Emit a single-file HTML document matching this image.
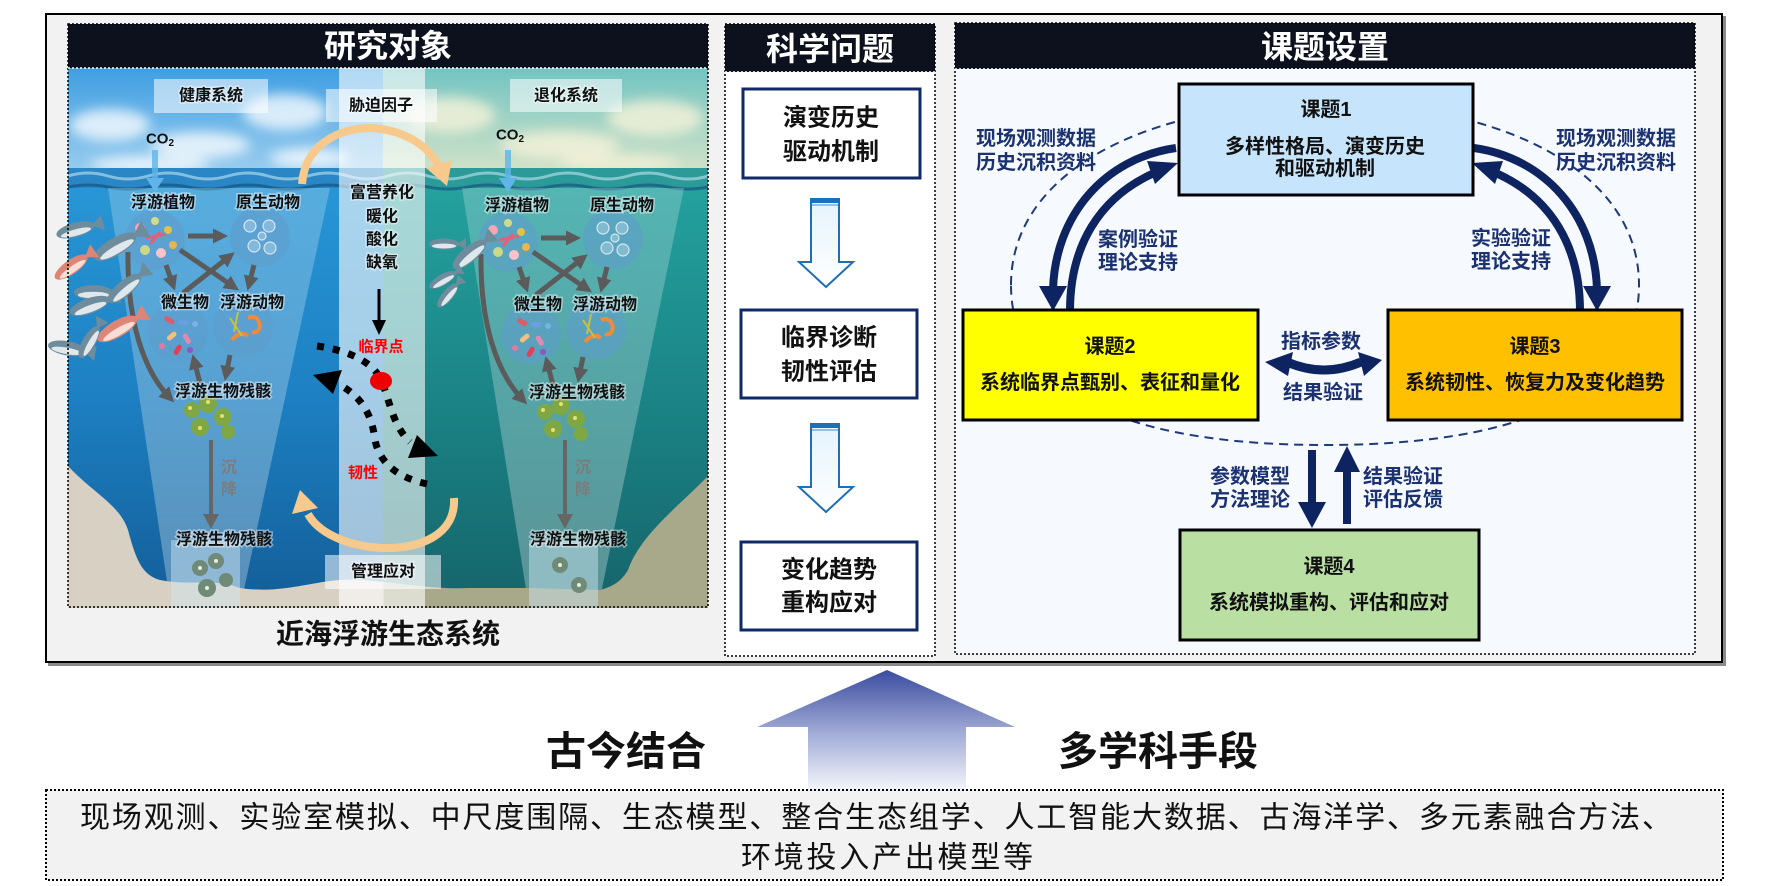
<!DOCTYPE html>
<html><head><meta charset="utf-8">
<style>
html,body{margin:0;padding:0;background:#fff;}
body{width:1768px;height:886px;overflow:hidden;}
svg{display:block;}
text{font-family:"Liberation Sans","Noto Sans CJK SC",sans-serif;}
.lb{font-size:16px;font-weight:bold;fill:#111;text-anchor:middle;dominant-baseline:central;stroke:#fff;stroke-width:3px;stroke-opacity:.45;paint-order:stroke;}
.nv{font-size:20px;font-weight:bold;fill:#1b3170;text-anchor:middle;dominant-baseline:central;}
.bx{font-size:20px;font-weight:bold;fill:#111;text-anchor:middle;dominant-baseline:central;}
.mq{font-size:24px;font-weight:bold;fill:#111;text-anchor:middle;dominant-baseline:central;}
.hd{font-size:32px;font-weight:bold;fill:#fff;text-anchor:middle;dominant-baseline:central;}
.sk{font-size:16px;font-weight:bold;fill:#7c7c7c;text-anchor:middle;dominant-baseline:central;}
</style></head><body>
<svg width="1768" height="886" viewBox="0 0 1768 886" xmlns="http://www.w3.org/2000/svg">
<defs>
 <linearGradient id="skyL" x1="0" y1="0" x2="0" y2="1"><stop offset="0" stop-color="#3f9ee2"/><stop offset="1" stop-color="#a6d3f0"/></linearGradient>
 <linearGradient id="skyR" x1="0" y1="0" x2="0" y2="1"><stop offset="0" stop-color="#72c4c2"/><stop offset="1" stop-color="#dfe6c8"/></linearGradient>
 <linearGradient id="watL" x1="0" y1="0" x2="0" y2="1"><stop offset="0" stop-color="#2896d6"/><stop offset="0.5" stop-color="#1d80c2"/><stop offset="1" stop-color="#135d98"/></linearGradient>
 <linearGradient id="watR" x1="0" y1="0" x2="0" y2="1"><stop offset="0" stop-color="#24a19e"/><stop offset="0.5" stop-color="#1b8486"/><stop offset="1" stop-color="#15646a"/></linearGradient>
 <linearGradient id="sand" x1="68" y1="0" x2="708" y2="0" gradientUnits="userSpaceOnUse"><stop offset="0" stop-color="#d9d0c4"/><stop offset="0.493" stop-color="#d9d0c4"/><stop offset="0.493" stop-color="#a8a88b"/><stop offset="1" stop-color="#a8a88b"/></linearGradient>
 <linearGradient id="beam" x1="0" y1="0" x2="0" y2="1"><stop offset="0" stop-color="#fff" stop-opacity="0.22"/><stop offset="1" stop-color="#fff" stop-opacity="0.30"/></linearGradient>
 <linearGradient id="bigArr" x1="0" y1="670" x2="0" y2="798" gradientUnits="userSpaceOnUse"><stop offset="0" stop-color="#3a4c9f"/><stop offset="0.5" stop-color="#a3add6"/><stop offset="1" stop-color="#ffffff"/></linearGradient>
 <linearGradient id="hollow" x1="0" y1="0" x2="0" y2="1"><stop offset="0" stop-color="#e4f3fc"/><stop offset="1" stop-color="#ffffff"/></linearGradient>
 <filter id="blur6" x="-50%" y="-50%" width="200%" height="200%"><feGaussianBlur stdDeviation="6"/></filter>
 <clipPath id="clipL"><rect x="68" y="68" width="640" height="540"/></clipPath>
 <marker id="ga" markerWidth="3" markerHeight="3" refX="1.8" refY="1.5" orient="auto" markerUnits="strokeWidth"><path d="M0,0 L3,1.5 L0,3 z" fill="#5b5b5b"/></marker>
 <g id="fishA"><ellipse cx="18" cy="8" rx="15" ry="5.5" fill="#6f8c9c"/><ellipse cx="18" cy="10" rx="12" ry="2.5" fill="#dfe8ec"/><polygon points="31,8 40,2 40,14" fill="#6f8c9c"/></g>
 <g id="fishB"><ellipse cx="18" cy="8" rx="15" ry="5.5" fill="#de8676"/><ellipse cx="18" cy="10" rx="12" ry="2.5" fill="#f6ddd6"/><polygon points="31,8 40,2 40,14" fill="#de8676"/></g>
 <g id="eco">
  <circle cx="155" cy="240" r="30" fill="#5d9ccc" fill-opacity="0.6"/>
  <circle cx="260" cy="237" r="30" fill="#5d9ccc" fill-opacity="0.6"/>
  <circle cx="178" cy="332" r="30" fill="#5d9ccc" fill-opacity="0.6"/>
  <circle cx="243" cy="327" r="30" fill="#5d9ccc" fill-opacity="0.6"/>
  <circle cx="140" cy="228" r="5" fill="#f4a6b4"/><circle cx="155" cy="221" r="4" fill="#cfdc8c"/><circle cx="168" cy="230" r="4" fill="#e2c04a"/>
  <circle cx="145" cy="250" r="5" fill="#c9d98a"/><circle cx="161" cy="253" r="5" fill="#f7c2c8"/><circle cx="173" cy="245" r="4" fill="#e7b64c"/>
  <path d="M146,238 L166,234 M150,244 L160,232" stroke="#e4607a" stroke-width="3"/>
  <g fill="#fff" fill-opacity="0.25" stroke="#fff" stroke-opacity="0.7" stroke-width="1.2">
   <circle cx="250" cy="226" r="6"/><circle cx="269" cy="226" r="6"/><circle cx="254" cy="246" r="6"/><circle cx="270" cy="248" r="6"/><circle cx="262" cy="236" r="4"/></g>
  <g>
   <rect x="164" y="318" width="11" height="5" rx="2.5" fill="#e05a6a" transform="rotate(30 170 320)"/>
   <rect x="178" y="320" width="11" height="5" rx="2.5" fill="#6aa0e0"/>
   <rect x="166" y="334" width="11" height="5" rx="2.5" fill="#f0c080" transform="rotate(-40 171 336)"/>
   <rect x="182" y="336" width="11" height="5" rx="2.5" fill="#e08ab0" transform="rotate(60 187 338)"/>
   <rect x="172" y="348" width="11" height="5" rx="2.5" fill="#e0405a" transform="rotate(-60 177 350)"/>
   <circle cx="190" cy="350" r="3" fill="#8a56c0"/><circle cx="162" cy="346" r="3" fill="#e07aa0"/><circle cx="195" cy="324" r="3" fill="#7ab0e8"/>
  </g>
  <path d="M248,318 q10,-4 12,8 q-2,8 -8,6" stroke="#f08a3c" stroke-width="4" fill="none"/>
  <path d="M232,340 q8,-10 16,-4" stroke="#f08a3c" stroke-width="4" fill="none"/>
  <path d="M230,318 l12,18 M238,312 l-4,20" stroke="#c8c040" stroke-width="2"/>
  <g stroke="#5b5b5b" stroke-width="5" fill="none" marker-end="url(#ga)">
   <path d="M188,236 L222,236"/>
   <path d="M180,250 L234,287"/>
   <path d="M183,293 L230,256"/>
   <path d="M166,265 L173,285"/>
   <path d="M254,265 L249,285"/>
   <path d="M200,383 L194,360"/>
   <path d="M230,355 L226,375"/>
   <path d="M128,252 C127,320 143,370 170,398"/>
  </g>
  <g fill="#7fa744"><circle cx="192" cy="410" r="8"/><circle cx="208" cy="404" r="9"/><circle cx="223" cy="417" r="9"/><circle cx="200" cy="427" r="9"/><circle cx="228" cy="432" r="7"/></g>
  <g fill="#e8e070"><circle cx="190" cy="408" r="2"/><circle cx="208" cy="402" r="2"/><circle cx="222" cy="416" r="2"/><circle cx="200" cy="428" r="2"/></g>
 </g>
</defs>

<!-- outer frame -->
<rect x="48" y="16" width="1678" height="650" fill="#8a8a8a"/>
<rect x="46" y="14" width="1676" height="648" fill="#f2f2f2" stroke="#000" stroke-width="2"/>

<!-- ===== LEFT PANEL ===== -->
<g clip-path="url(#clipL)">
 <rect x="68" y="68" width="315" height="118" fill="url(#skyL)"/>
 <rect x="383" y="68" width="325" height="118" fill="url(#skyR)"/>
 <g filter="url(#blur6)" fill="#fff" fill-opacity="0.75">
  <ellipse cx="110" cy="125" rx="40" ry="16"/><ellipse cx="200" cy="145" rx="50" ry="13"/><ellipse cx="285" cy="112" rx="42" ry="18"/><ellipse cx="150" cy="165" rx="60" ry="9"/><ellipse cx="310" cy="158" rx="40" ry="10"/>
 </g>
 <g filter="url(#blur6)" fill="#f6f2da" fill-opacity="0.8">
  <ellipse cx="450" cy="115" rx="45" ry="18"/><ellipse cx="560" cy="145" rx="60" ry="14"/><ellipse cx="655" cy="118" rx="48" ry="18"/><ellipse cx="620" cy="163" rx="60" ry="8"/>
 </g>
 <rect x="68" y="186" width="315" height="422" fill="url(#watL)"/>
 <rect x="383" y="186" width="325" height="422" fill="url(#watR)"/>
 <rect x="68" y="168" width="315" height="20" fill="#2a86c4"/>
 <rect x="383" y="168" width="325" height="20" fill="#2d9a9a"/>
 <path d="M68,176 q20,-6 40,0 t40,0 t40,0 t40,0 t40,0 t40,0 t40,0 t40,0 t40,0 t40,0 t40,0 t40,0 t40,0 t40,0 t40,0 t40,0 t40,0" stroke="#bfe6f4" stroke-opacity="0.6" stroke-width="3" fill="none"/>
 <path d="M68,187 q20,-4 40,0 t40,0 t40,0 t40,0 t40,0 t40,0 t40,0 t40,0 t40,0 t40,0 t40,0 t40,0 t40,0 t40,0 t40,0 t40,0 t40,0" stroke="#0f4d7a" stroke-opacity="0.6" stroke-width="3" fill="none"/>
 <!-- beams -->
 <polygon points="108,188 330,188 240,608 171,608" fill="url(#beam)"/>
 <polygon points="462,188 684,188 598,608 529,608" fill="url(#beam)"/>
 <!-- sand -->
 <path d="M68,466 C92,492 120,505 128,530 C136,560 142,575 160,580 C190,586 215,578 240,588 C280,594 310,582 340,580 C380,578 420,590 470,588 L530,588 L600,590 C615,586 622,580 628,570 C640,535 680,505 708,476 L708,608 L68,608 Z" fill="url(#sand)"/>
 <rect x="171" y="540" width="69" height="68" fill="#cfe8f4" fill-opacity="0.45"/>
 <rect x="529" y="540" width="69" height="68" fill="#cfe8f4" fill-opacity="0.45"/>
 <!-- center band -->
 <rect x="339" y="68" width="86" height="540" fill="#fff" fill-opacity="0.6"/>
 <!-- labels -->
 <rect x="154" y="79" width="114" height="34" fill="#fff" fill-opacity="0.55"/>
 <rect x="326" y="89" width="111" height="33" fill="#fff" fill-opacity="0.55"/>
 <rect x="510" y="79" width="112" height="33" fill="#fff" fill-opacity="0.55"/>
 <rect x="325" y="555" width="116" height="34" fill="#fff" fill-opacity="0.55"/>
 <!-- CO2 arrows -->
 <g stroke="#5fb4ea" stroke-width="6" stroke-opacity="0.8"><line x1="155" y1="150" x2="155" y2="180"/><line x1="508" y1="150" x2="508" y2="180"/></g>
 <polygon points="146,178 164,178 155,192" fill="#5fb4ea"/>
 <polygon points="499,178 517,178 508,192" fill="#5fb4ea"/>
 <!-- ecosystems -->
 <use href="#eco"/>
 <use href="#eco" x="353" y="2"/>
 <!-- sink arrows -->
 <g stroke="#666" stroke-width="4"><line x1="211" y1="440" x2="211" y2="515"/><line x1="565" y1="440" x2="565" y2="515"/></g>
 <polygon points="203,514 219,514 211,529" fill="#666"/>
 <polygon points="557,514 573,514 565,529" fill="#666"/>
 <!-- bottom residues -->
 <g fill="#6f8a76"><circle cx="200" cy="568" r="8"/><circle cx="216" cy="561" r="8"/><circle cx="207" cy="588" r="9"/><circle cx="226" cy="580" r="7"/><circle cx="560" cy="565" r="8"/><circle cx="579" cy="585" r="8"/></g>
 <g fill="#e8eedc"><circle cx="200" cy="568" r="2"/><circle cx="216" cy="561" r="2"/><circle cx="207" cy="588" r="2"/><circle cx="560" cy="565" r="2"/><circle cx="579" cy="585" r="2"/></g>
 <!-- orange arcs -->
 <path d="M302,184 C305,145 338,128 372,128 C405,130 428,146 438,165" stroke="#f7c98c" stroke-width="8" fill="none"/>
 <polygon points="426,168 452,160 447,186" fill="#f7c98c"/>
 <path d="M454,498 C456,535 420,549 382,548 C345,546 318,532 308,514" stroke="#f7c98c" stroke-width="8" fill="none"/>
 <polygon points="292,514 318,508 300,490" fill="#f7c98c"/>
 <!-- black arrow -->
 <line x1="379" y1="289" x2="379" y2="322" stroke="#000" stroke-width="3"/>
 <polygon points="372,320 386,320 379,335" fill="#000"/>
 <!-- dashed curves -->
 <path d="M317,346 C345,350 372,360 381,380 C390,400 392,425 410,442" stroke="#000" stroke-width="7" stroke-dasharray="7 9" fill="none"/>
 <polygon points="417,435 438,456 408,458" fill="#000"/>
 <path d="M427,484 C400,478 380,465 375,440 C372,415 362,398 342,386" stroke="#000" stroke-width="7" stroke-dasharray="7 9" fill="none"/>
 <polygon points="313,375 342,370 333,394" fill="#000"/>
 <ellipse cx="381" cy="381" rx="11" ry="9" fill="#ee0000"/>
</g>
<!-- fish (overflow) -->
<use href="#fishA" transform="translate(50,226) rotate(-15) scale(1.3)"/>
<use href="#fishA" transform="translate(84,250) rotate(-30) scale(1.6)"/>
<use href="#fishB" transform="translate(46,272) rotate(-35) scale(1.3)"/>
<use href="#fishA" transform="translate(70,282) scale(1.3)"/>
<use href="#fishA" transform="translate(62,304) rotate(-20) scale(1.4)"/>
<use href="#fishA" transform="translate(98,296) rotate(-40) scale(1.4)"/>
<use href="#fishB" transform="translate(88,332) rotate(-30) scale(1.5)"/>
<use href="#fishA" transform="translate(46,334) rotate(10) scale(1.3)"/>
<use href="#fishA" transform="translate(70,356) rotate(-60) scale(1.2)"/>
<use href="#fishA" transform="translate(426,236) scale(1.0)"/>
<use href="#fishA" transform="translate(443,262) rotate(-40) scale(1.4)"/>
<use href="#fishA" transform="translate(423,282) rotate(-30) scale(1.0)"/>
<use href="#fishA" transform="translate(430,304) rotate(-50) scale(1.0)"/>

<!-- left panel texts -->
<text class="lb" x="211" y="96">健康系统</text>
<text class="lb" x="381" y="106">胁迫因子</text>
<text class="lb" x="566" y="96">退化系统</text>
<text class="lb" x="383" y="572">管理应对</text>
<text x="160" y="139" style="font-size:15px;font-weight:bold;text-anchor:middle;dominant-baseline:central;fill:#111">CO<tspan dy="4" font-size="10">2</tspan></text>
<text x="510" y="135" style="font-size:15px;font-weight:bold;text-anchor:middle;dominant-baseline:central;fill:#111">CO<tspan dy="4" font-size="10">2</tspan></text>
<text class="lb" x="163" y="203">浮游植物</text>
<text class="lb" x="268" y="203">原生动物</text>
<text class="lb" x="185" y="303">微生物</text>
<text class="lb" x="252" y="303">浮游动物</text>
<text class="lb" x="223" y="392">浮游生物残骸</text>
<text class="lb" x="224" y="540">浮游生物残骸</text>
<text class="lb" x="517" y="206">浮游植物</text>
<text class="lb" x="622" y="206">原生动物</text>
<text class="lb" x="538" y="305">微生物</text>
<text class="lb" x="605" y="305">浮游动物</text>
<text class="lb" x="577" y="393">浮游生物残骸</text>
<text class="lb" x="578" y="540">浮游生物残骸</text>
<text class="sk" x="229" y="468">沉</text>
<text class="sk" x="229" y="490">降</text>
<text class="sk" x="583" y="468">沉</text>
<text class="sk" x="583" y="490">降</text>
<text class="lb" x="382" y="193">富营养化</text>
<text class="lb" x="382" y="217">暖化</text>
<text class="lb" x="382" y="240">酸化</text>
<text class="lb" x="382" y="263">缺氧</text>
<text x="381" y="347" style="font-size:15px;font-weight:bold;fill:#f00;text-anchor:middle;dominant-baseline:central">临界点</text>
<text x="363" y="473" style="font-size:15px;font-weight:bold;fill:#f00;text-anchor:middle;dominant-baseline:central">韧性</text>

<!-- left header and frame -->
<rect x="68" y="24" width="640" height="44" fill="#0c111d"/>
<text class="hd" x="388" y="46">研究对象</text>
<rect x="68" y="24" width="640" height="583" fill="none" stroke="#000" stroke-width="1.5" stroke-dasharray="2 2"/>
<line x1="68" y1="68" x2="708" y2="68" stroke="#fff" stroke-width="1.5" stroke-dasharray="2 2"/>
<text x="388" y="634" style="font-size:28px;font-weight:bold;fill:#111;text-anchor:middle;dominant-baseline:central">近海浮游生态系统</text>

<!-- ===== MIDDLE COLUMN ===== -->
<rect x="725" y="72" width="210" height="584" fill="#fff"/>
<rect x="725" y="24" width="210" height="48" fill="#0c111d"/>
<rect x="725" y="24" width="210" height="632" fill="none" stroke="#000" stroke-width="1.5" stroke-dasharray="2 2"/>
<line x1="725" y1="72" x2="935" y2="72" stroke="#fff" stroke-width="1.5" stroke-dasharray="2 2"/>
<text class="hd" x="830" y="49">科学问题</text>
<rect x="743" y="89" width="177" height="89" fill="#fff" stroke="#0f2a66" stroke-width="3"/>
<text class="mq" x="831" y="118">演变历史</text>
<text class="mq" x="831" y="152">驱动机制</text>
<rect x="741" y="310" width="176" height="88" fill="#fff" stroke="#0f2a66" stroke-width="3"/>
<text class="mq" x="829" y="338">临界诊断</text>
<text class="mq" x="829" y="372">韧性评估</text>
<rect x="741" y="542" width="176" height="88" fill="#fff" stroke="#0f2a66" stroke-width="3"/>
<text class="mq" x="829" y="570">变化趋势</text>
<text class="mq" x="829" y="603">重构应对</text>
<g>
 <path d="M811,199 L839,199 L839,262 L853,262 L826,287 L799,262 L811,262 Z" fill="url(#hollow)" stroke="#1d6fb8" stroke-width="2"/>
 <rect x="811" y="198" width="28" height="5" fill="#1d6fb8"/><rect x="812" y="204" width="26" height="2" fill="#8ec2ea"/>
 <path d="M811,424 L839,424 L839,487 L853,487 L826,512 L799,487 L811,487 Z" fill="url(#hollow)" stroke="#1d6fb8" stroke-width="2"/>
 <rect x="811" y="423" width="28" height="5" fill="#1d6fb8"/><rect x="812" y="429" width="26" height="2" fill="#8ec2ea"/>
</g>

<!-- ===== RIGHT PANEL ===== -->
<rect x="955" y="69" width="740" height="585" fill="#f6faff"/>
<rect x="955" y="23" width="740" height="46" fill="#0c111d"/>
<rect x="955" y="23" width="740" height="631" fill="none" stroke="#000" stroke-width="1.5" stroke-dasharray="2 2"/>
<line x1="955" y1="69" x2="1695" y2="69" stroke="#fff" stroke-width="1.5" stroke-dasharray="2 2"/>
<text class="hd" x="1325" y="47">课题设置</text>

<path d="M1011,285 C1011,170 1150,103 1325,103 C1500,103 1639,170 1639,285 C1639,390 1530,445 1325,445 C1120,445 1011,390 1011,285 Z" fill="none" stroke="#1f3a78" stroke-width="2" stroke-dasharray="9 6"/>

<!-- curved arrows -->
<g stroke="#0d2461" stroke-width="8" fill="none">
 <path d="M1176,148 C1105,158 1055,215 1053,290"/>
 <path d="M1070,311 C1070,245 1100,198 1152,174"/>
 <path d="M1474,148 C1545,158 1595,215 1597,290"/>
 <path d="M1580,311 C1580,245 1550,198 1498,174"/>
 <path d="M1287,362 Q1324,378 1361,362" stroke-width="9"/>
 <line x1="1312" y1="450" x2="1312" y2="505"/>
 <line x1="1347" y1="524" x2="1347" y2="468"/>
</g>
<g fill="#0d2461">
 <polygon points="1039,286 1067,286 1053,311"/>
 <polygon points="1147,161 1178,163 1155,184"/>
 <polygon points="1583,286 1611,286 1597,311"/>
 <polygon points="1503,161 1472,163 1495,184"/>
 <polygon points="1265,362 1293,352 1288,376"/>
 <polygon points="1382,360 1358,352 1364,376"/>
 <polygon points="1298,502 1326,502 1312,528"/>
 <polygon points="1334,472 1360,472 1347,446"/>
</g>

<rect x="1179" y="84" width="294" height="111" fill="#c6e4fb" stroke="#000" stroke-width="3"/>
<text class="bx" x="1326" y="110">课题1</text>
<text class="bx" x="1325" y="147">多样性格局、演变历史</text>
<text class="bx" x="1325" y="169">和驱动机制</text>
<rect x="963" y="310" width="295" height="110" fill="#ffff00" stroke="#000" stroke-width="3"/>
<text class="bx" x="1110" y="347">课题2</text>
<text class="bx" x="1110" y="383">系统临界点甄别、表征和量化</text>
<rect x="1388" y="310" width="294" height="110" fill="#ffc000" stroke="#000" stroke-width="3"/>
<text class="bx" x="1535" y="347">课题3</text>
<text class="bx" x="1535" y="383">系统韧性、恢复力及变化趋势</text>
<rect x="1180" y="530" width="299" height="110" fill="#badfa2" stroke="#000" stroke-width="3"/>
<text class="bx" x="1329" y="567">课题4</text>
<text class="bx" x="1329" y="603">系统模拟重构、评估和应对</text>

<text class="nv" x="1036" y="139">现场观测数据</text>
<text class="nv" x="1036" y="163">历史沉积资料</text>
<text class="nv" x="1616" y="139">现场观测数据</text>
<text class="nv" x="1616" y="163">历史沉积资料</text>
<text class="nv" x="1138" y="240">案例验证</text>
<text class="nv" x="1138" y="263">理论支持</text>
<text class="nv" x="1511" y="239">实验验证</text>
<text class="nv" x="1511" y="262">理论支持</text>
<text class="nv" x="1321" y="342">指标参数</text>
<text class="nv" x="1323" y="393">结果验证</text>
<text class="nv" x="1250" y="477">参数模型</text>
<text class="nv" x="1250" y="500">方法理论</text>
<text class="nv" x="1403" y="477">结果验证</text>
<text class="nv" x="1403" y="500">评估反馈</text>

<!-- ===== BOTTOM ===== -->
<polygon points="887,670 1015,727 966,727 966,798 808,798 808,727 757,727" fill="url(#bigArr)"/>
<text x="626" y="752" style="font-size:40px;font-weight:bold;fill:#111;text-anchor:middle;dominant-baseline:central">古今结合</text>
<text x="1158" y="752" style="font-size:40px;font-weight:bold;fill:#111;text-anchor:middle;dominant-baseline:central">多学科手段</text>
<rect x="46" y="790" width="1677" height="90" fill="#f2f2f2" stroke="#000" stroke-width="2" stroke-dasharray="2 2"/>
<text x="80" y="818" textLength="1592" lengthAdjust="spacing" style="font-size:30px;fill:#111;dominant-baseline:central">现场观测、实验室模拟、中尺度围隔、生态模型、整合生态组学、人工智能大数据、古海洋学、多元素融合方法、</text>
<text x="741" y="858" textLength="292" lengthAdjust="spacing" style="font-size:30px;fill:#111;dominant-baseline:central">环境投入产出模型等</text>
</svg>
</body></html>
